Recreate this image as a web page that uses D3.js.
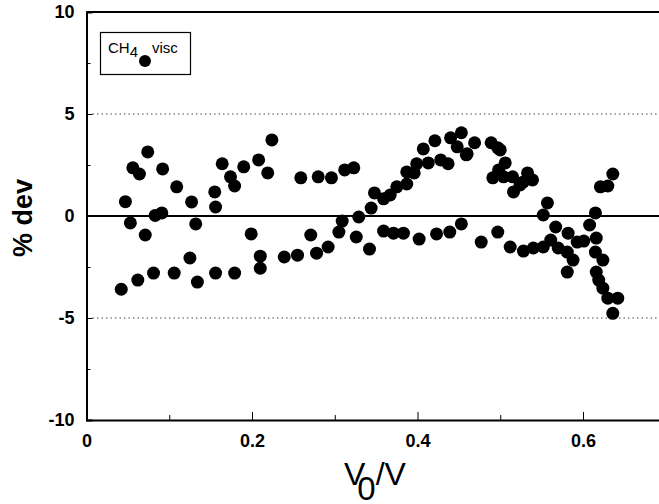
<!DOCTYPE html>
<html lang="en">
	<head>
		<meta charset="utf-8">
		<title>CH4 visc % dev</title>
		<script type="text/javascript" src="https://cdn.jsdelivr.net/npm/d3@7"></script>
		<style type="text/css">
			body { margin: 0; background: #fff; }
			svg { display: block; }
		</style>
	</head>
	<body>
		<script type="text/javascript">

			//Width and height
			var w = 659;
			var h = 504;

			// V0/V values
			var xVals = [0.047, 0.053, 0.056, 0.064, 0.074, 0.071, 0.042, 0.062, 0.081, 0.083,
				0.091, 0.092, 0.106, 0.109, 0.125, 0.127, 0.132, 0.134, 0.155, 0.156,
				0.156, 0.164, 0.174, 0.179, 0.179, 0.190, 0.199, 0.208, 0.210, 0.210,
				0.219, 0.224, 0.259, 0.280, 0.296, 0.312, 0.323, 0.239, 0.255, 0.271,
				0.278, 0.292, 0.305, 0.309, 0.326, 0.329, 0.342, 0.344, 0.348, 0.359,
				0.367, 0.375, 0.387, 0.387, 0.396, 0.399, 0.407, 0.413, 0.421, 0.428,
				0.437, 0.440, 0.448, 0.453, 0.459, 0.359, 0.371, 0.383, 0.402, 0.423,
				0.439, 0.453, 0.460, 0.469, 0.489, 0.497, 0.500, 0.506, 0.498, 0.491,
				0.504, 0.515, 0.516, 0.524, 0.533, 0.539, 0.528, 0.557, 0.552, 0.477,
				0.497, 0.512, 0.528, 0.540, 0.552, 0.561, 0.567, 0.570, 0.581, 0.582,
				0.588, 0.581, 0.593, 0.601, 0.615, 0.608, 0.616, 0.615, 0.624, 0.616,
				0.619, 0.624, 0.630, 0.642, 0.636, 0.621, 0.630, 0.636];

			// % dev values
			var devVals = [0.70, -0.34, 2.36, 2.06, 3.14, -0.93, -3.59, -3.14, -2.80, 0.03,
				0.15, 2.31, -2.80, 1.43, -2.06, 0.69, -0.39, -3.24, 1.18, 0.44,
				-2.80, 2.56, 1.92, 1.47, -2.80, 2.41, -0.88, 2.75, -1.97, -2.56,
				2.11, 3.73, 1.87, 1.92, 1.87, 2.26, 2.36, -2.01, -1.92, -0.93,
				-1.82, -1.52, -0.79, -0.25, -1.03, -0.05, -1.62, 0.39, 1.13, 0.84,
				1.03, 1.43, 1.57, 2.16, 2.11, 2.56, 3.29, 2.60, 3.69, 2.75,
				2.56, 3.83, 3.39, 4.08, 3.00, -0.74, -0.84, -0.84, -1.13, -0.88,
				-0.79, -0.39, 3.05, 3.59, 3.59, 3.34, 3.24, 2.60, 2.26, 1.87,
				1.92, 1.92, 1.18, 1.52, 2.11, 1.77, 1.67, 0.64, 0.05, -1.28,
				-0.79, -1.52, -1.72, -1.57, -1.52, -1.18, -0.54, -1.57, -1.77, -0.84,
				-2.16, -2.75, -1.28, -1.23, 0.15, -0.44, -1.08, -1.77, -2.16, -2.75,
				-3.14, -3.54, -4.03, -4.03, -4.77, 1.43, 1.47, 2.06];

			var xMajorTicks = [0, 0.2, 0.4, 0.6];
			var xMinorTicks = [0.1, 0.3, 0.5];
			var yMajorTicks = [-10, -5, 0, 5, 10];
			var yMinorTicks = [-7.5, -2.5, 2.5, 7.5];
			var gridVals = [-5, 5];

			var dataset = xVals.map(function(x, i) {
				return { x: x, y: devVals[i] };
			});

			var plotLeft = 86.5, plotTop = 12, plotBottom = 420;

			var xScale = d3.scaleLinear()
				.domain([0, 0.7])
				.range([plotLeft, plotLeft + 827.5 * 0.7]);

			var yScale = d3.scaleLinear()
				.domain([-10, 10])
				.range([plotBottom, plotTop]);

			var svg = d3.select("body")
				.append("svg")
				.attr("width", w)
				.attr("height", h);

			// dotted grid at +/-5
			svg.selectAll("line.grid")
				.data(gridVals)
				.enter()
				.append("line")
				.attr("class", "grid")
				.attr("x1", plotLeft + 6)
				.attr("x2", w)
				.attr("y1", function(d) { return yScale(d); })
				.attr("y2", function(d) { return yScale(d); })
				.attr("stroke", "#444")
				.attr("stroke-width", 1)
				.attr("stroke-dasharray", "1.5,3");

			// zero line
			svg.append("line")
				.attr("x1", plotLeft)
				.attr("x2", w)
				.attr("y1", yScale(0))
				.attr("y2", yScale(0))
				.attr("stroke", "#000")
				.attr("stroke-width", 2);

			// top frame line
			svg.append("line")
				.attr("x1", plotLeft)
				.attr("x2", w)
				.attr("y1", yScale(10))
				.attr("y2", yScale(10))
				.attr("stroke", "#000")
				.attr("stroke-width", 2);

			//Define axes
			var xAxis = d3.axisBottom(xScale)
				.tickValues(xMajorTicks)
				.tickSize(-8)
				.tickPadding(14)
				.tickFormat(function(d) { return d === 0 ? "0" : d3.format(".1f")(d); });

			var xMinor = d3.axisBottom(xScale)
				.tickValues(xMinorTicks)
				.tickSize(-5)
				.tickFormat("");

			var yAxis = d3.axisLeft(yScale)
				.tickValues(yMajorTicks)
				.tickSize(-6)
				.tickPadding(12)
				.tickFormat(function(d) { return String(d); });

			var yMinor = d3.axisLeft(yScale)
				.tickValues(yMinorTicks)
				.tickSize(-4)
				.tickFormat("");

			svg.append("g")
				.attr("class", "x minor")
				.attr("transform", "translate(0," + plotBottom + ")")
				.call(xMinor);

			svg.append("g")
				.attr("class", "y minor")
				.attr("transform", "translate(" + plotLeft + ",0)")
				.call(yMinor);

			svg.append("g")
				.attr("class", "x axis")
				.attr("transform", "translate(0," + plotBottom + ")")
				.call(xAxis);

			svg.append("g")
				.attr("class", "y axis")
				.attr("transform", "translate(" + plotLeft + ",0)")
				.call(yAxis);

			svg.selectAll(".axis path.domain")
				.attr("stroke-width", 2);
			svg.selectAll(".minor path.domain").remove();
			svg.selectAll(".axis text, .minor text")
				.attr("font-family", "'Liberation Sans', Arial, sans-serif")
				.attr("font-size", "18px")
				.attr("font-weight", "bold")
				.attr("fill", "#000");

			//Create circles
			svg.selectAll("circle.pt")
				.data(dataset)
				.enter()
				.append("circle")
				.attr("class", "pt")
				.attr("cx", function(d) { return xScale(d.x); })
				.attr("cy", function(d) { return yScale(d.y); })
				.attr("r", 6.5)
				.attr("fill", "#000");

			// legend
			var legend = svg.append("g");
			legend.append("rect")
				.attr("x", 100.5)
				.attr("y", 32.5)
				.attr("width", 90)
				.attr("height", 42)
				.attr("fill", "#fff")
				.attr("stroke", "#000")
				.attr("stroke-width", 1.2);
			var lt = legend.append("text")
				.attr("x", 108)
				.attr("y", 53)
				.attr("font-family", "'Liberation Sans', Arial, sans-serif")
				.attr("font-size", "15px")
				.attr("fill", "#000");
			lt.append("tspan").text("CH");
			lt.append("tspan").attr("dy", 4).text("4");
			lt.append("tspan").attr("x", 152).attr("dy", -4).text("visc");
			legend.append("circle")
				.attr("cx", 145)
				.attr("cy", 61)
				.attr("r", 6)
				.attr("fill", "#000");

			// y title
			svg.append("text")
				.attr("transform", "translate(32,218) rotate(-90)")
				.attr("text-anchor", "middle")
				.attr("font-family", "'Liberation Sans', Arial, sans-serif")
				.attr("font-size", "27px")
				.attr("font-weight", "bold")
				.attr("fill", "#000")
				.text("% dev");

			// x title V0/V
			var xt = svg.append("text")
				.attr("x", 344)
				.attr("y", 485)
				.attr("font-family", "'Liberation Sans', Arial, sans-serif")
				.attr("font-size", "32px")
				.attr("fill", "#000");
			xt.append("tspan").text("V");
			xt.append("tspan").attr("dx", -8).attr("dy", 15).attr("font-size", "33px").text("0");
			xt.append("tspan").attr("dy", -15).attr("font-size", "32px").text("/V");

		</script>
	</body>
</html>
